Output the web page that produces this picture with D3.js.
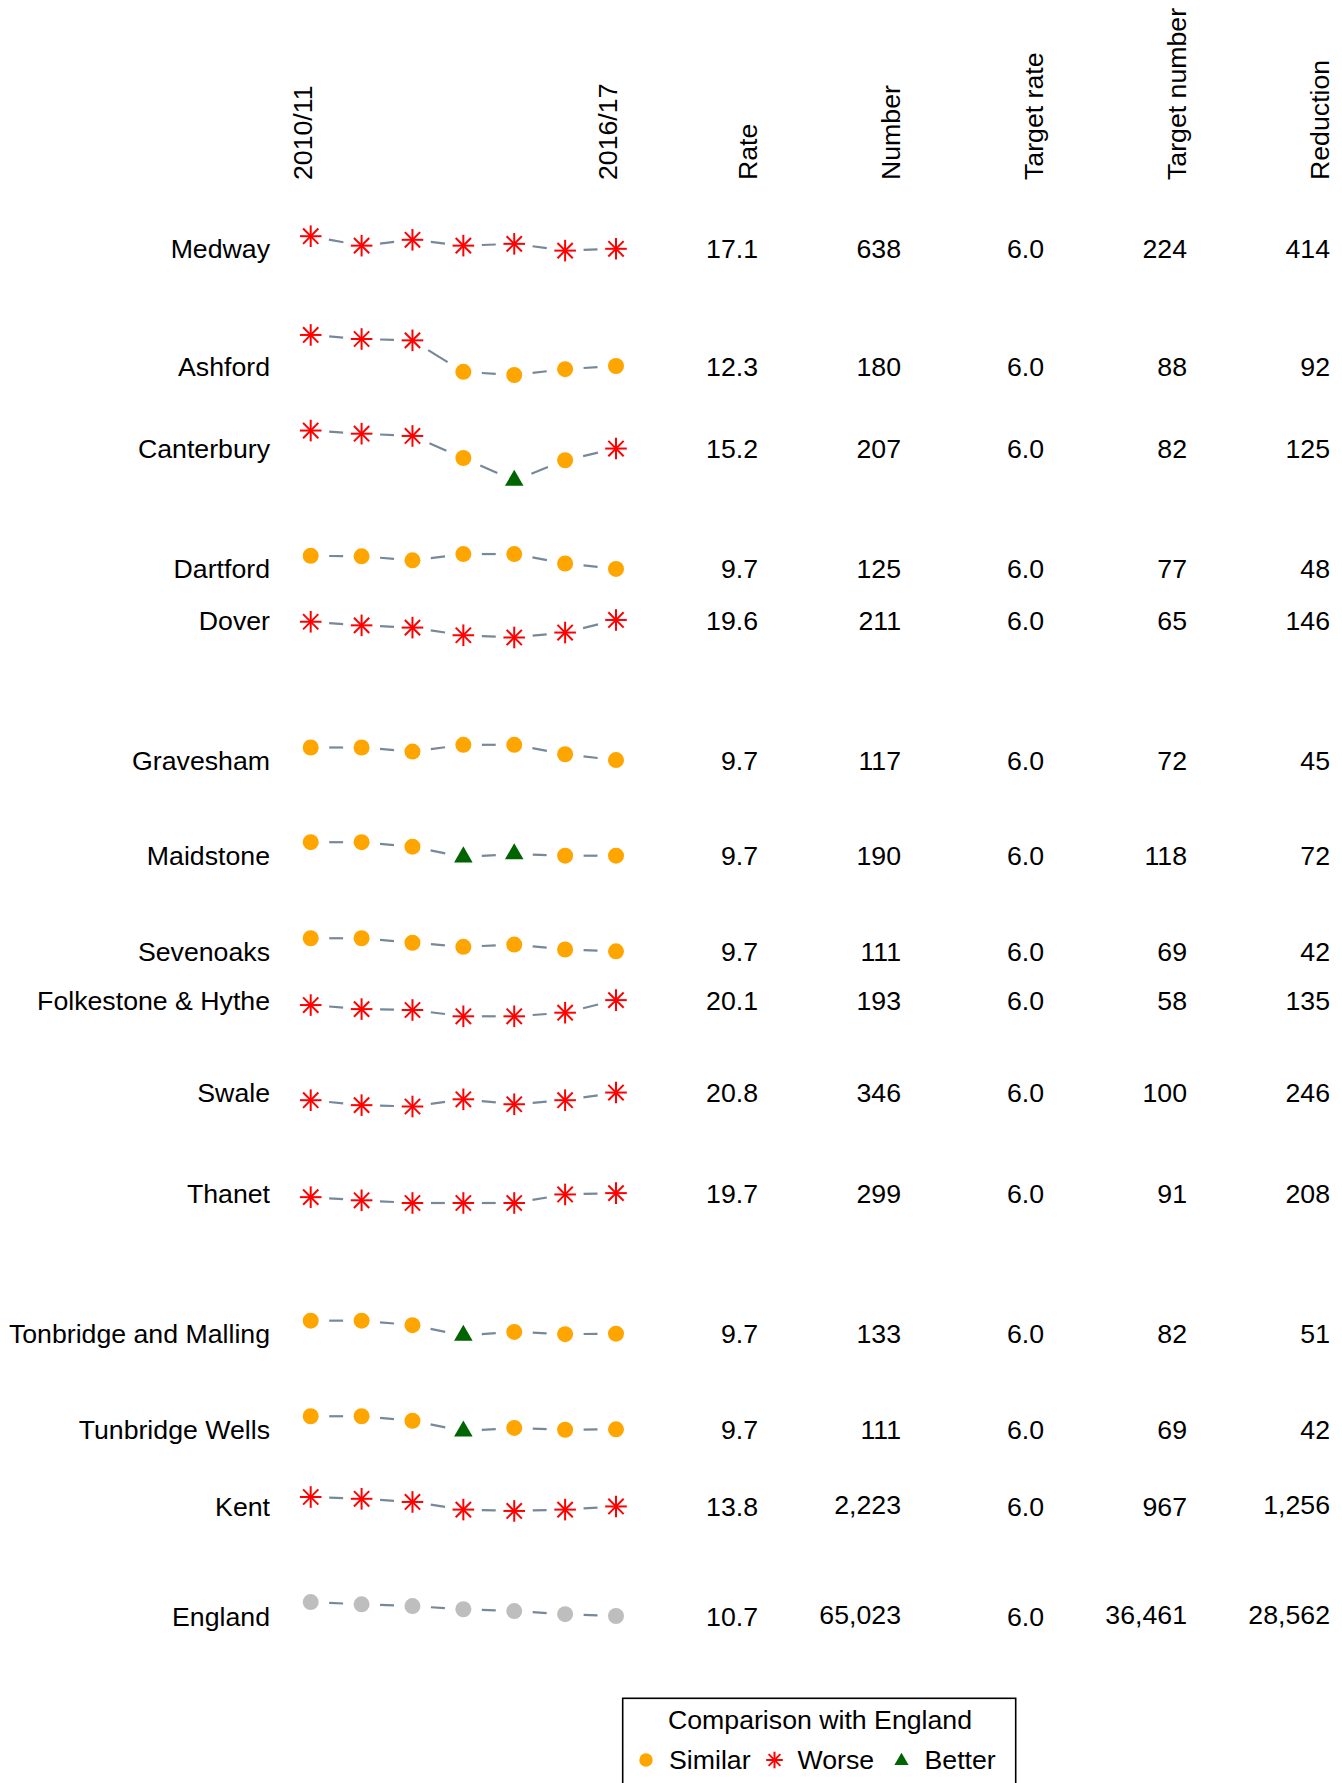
<!DOCTYPE html>
<html>
<head>
<meta charset="utf-8">
<script src="https://cdn.jsdelivr.net/npm/d3@7"></script>
<style>
  body { margin: 0; background: #fff; }
  svg text { font-family: "Liberation Sans", Arial, sans-serif; font-size: 26.7px; fill: #000; }
</style>
</head>
<body>
<svg id="chart" width="1342" height="1783"></svg>
<script>
// data
const years = ['2010/11', '2011/12', '2012/13', '2013/14', '2014/15', '2015/16', '2016/17'];

const areas = ['Medway', 'Ashford', 'Canterbury', 'Dartford', 'Dover', 'Gravesham', 'Maidstone',
  'Sevenoaks', 'Folkestone & Hythe', 'Swale', 'Thanet', 'Tonbridge and Malling',
  'Tunbridge Wells', 'Kent', 'England'];

// one trend per area, 2010/11 .. 2016/17
const trendRates = [
  [19.9, 17.8, 19.1, 17.8, 18.2, 16.7, 17.1],
  [19.2, 18.3, 18.0, 11.0, 10.3, 11.6, 12.3],
  [19.2, 18.5, 18.0, 13.1, 8.1, 12.6, 15.2],
  [12.6, 12.5, 11.6, 13.0, 13.0, 10.9, 9.7],
  [19.2, 18.4, 17.9, 16.2, 15.7, 16.8, 19.6],
  [12.5, 12.5, 11.6, 13.1, 13.1, 11.0, 9.7],
  [12.7, 12.7, 11.7, 9.4, 10.1, 9.7, 9.7],
  [12.6, 12.6, 11.6, 10.7, 11.2, 10.1, 9.7],
  [19.0, 18.1, 17.9, 16.5, 16.5, 17.3, 20.1],
  [19.1, 18.0, 17.7, 19.3, 18.2, 19.1, 20.8],
  [18.8, 18.1, 17.5, 17.5, 17.5, 19.4, 19.7],
  [12.6, 12.6, 11.6, 9.3, 10.1, 9.6, 9.7],
  [12.6, 12.6, 11.6, 9.3, 10.0, 9.6, 9.7],
  [15.9, 15.5, 14.8, 13.1, 12.8, 13.1, 13.8],
  [13.8, 13.3, 12.9, 12.2, 11.8, 11.1, 10.7]
];

// S = similar, W = worse, B = better, E = England itself
const trendFlags = ['WWWWWWW', 'WWWSSSS', 'WWWSBSW', 'SSSSSSS', 'WWWWWWW', 'SSSSSSS', 'SSSBBSS',
  'SSSSSSS', 'WWWWWWW', 'WWWWWWW', 'WWWWWWW', 'SSSBSSS', 'SSSBSSS', 'WWWWWWW', 'EEEEEEE'];

const rate = [17.1, 12.3, 15.2, 9.7, 19.6, 9.7, 9.7, 9.7, 20.1, 20.8, 19.7, 9.7, 9.7, 13.8, 10.7];
const number = [638, 180, 207, 125, 211, 117, 190, 111, 193, 346, 299, 133, 111, 2223, 65023];
const targetRate = [6, 6, 6, 6, 6, 6, 6, 6, 6, 6, 6, 6, 6, 6, 6];
const targetNumber = [224, 88, 82, 77, 65, 72, 118, 69, 58, 100, 91, 82, 69, 967, 36461];
const reduction = [414, 92, 125, 48, 146, 45, 72, 42, 135, 246, 208, 51, 42, 1256, 28562];

const columnHeaders = ['Rate', 'Number', 'Target rate', 'Target number', 'Reduction'];

const legendLabels = ['Similar', 'Worse', 'Better'];

const colors = {
  S: '#FFA500',
  W: '#FF0000',
  B: '#006400',
  E: '#BEBEBE',
  line: '#778899'
};

const svg = d3.select('#chart');
const em = 26.7;

// scales
const x = d3.scalePoint().domain(years).range([310.7, 616]);
const row = d3.scalePoint().domain(areas).range([325.75, 1664.15]);
const offset = d3.scaleLinear().domain([0, 20]).range([0, -90]);
const col = d3.scalePoint().domain(columnHeaders).range([758, 1330]);

const fmt1 = d3.format('.1f');
const fmtN = d3.format(',');

const columns = [
  { values: rate, format: fmt1 },
  { values: number, format: fmtN },
  { values: targetRate, format: fmt1 },
  { values: targetNumber, format: fmtN },
  { values: reduction, format: fmtN }
];

// numbers are centred on their ink box, so a comma lifts them a little
function baselineFor (y, str) {
  const desc = str.indexOf(',') >= 0 ? 0.15 : 0;
  return y + em * (0.716 - desc) / 2;
}

// markers
function drawMarker (g, flag, cx, cy, size) {
  const s = size || 1;
  if (flag === 'W') {
    const a = 10.8 * s, d = a / Math.SQRT2;
    const lines = [[-a, 0, a, 0], [0, -a, 0, a], [-d, -d, d, d], [-d, d, d, -d]];
    lines.forEach(l => {
      g.append('line')
        .attr('x1', cx + l[0]).attr('y1', cy + l[1])
        .attr('x2', cx + l[2]).attr('y2', cy + l[3])
        .attr('stroke', colors.W)
        .attr('stroke-width', 2);
    });
  } else if (flag === 'B') {
    const r = 10.7 * s, hw = r * Math.sqrt(3) / 2;
    g.append('path')
      .attr('d', `M${cx},${cy - r}L${cx + hw},${cy + r / 2}L${cx - hw},${cy + r / 2}Z`)
      .attr('fill', colors.B);
  } else {
    g.append('circle')
      .attr('cx', cx).attr('cy', cy).attr('r', 8 * s)
      .attr('fill', colors[flag]);
  }
}

const gap = 18.5;

areas.forEach((area, i) => {
  const pts = trendRates[i].map((v, j) => [x(years[j]), row(area) + offset(v)]);
  const g = svg.append('g').attr('class', 'area-row');

  // connecting dashes, trimmed around each point
  d3.pairs(pts).forEach(([p, q]) => {
    const dx = q[0] - p[0], dy = q[1] - p[1];
    const len = Math.sqrt(dx * dx + dy * dy);
    const ux = dx / len, uy = dy / len;
    g.append('line')
      .attr('x1', p[0] + ux * gap).attr('y1', p[1] + uy * gap)
      .attr('x2', q[0] - ux * gap).attr('y2', q[1] - uy * gap)
      .attr('stroke', colors.line)
      .attr('stroke-width', 2.2);
  });

  pts.forEach((p, j) => drawMarker(g, trendFlags[i][j], p[0], p[1]));

  const yLast = pts[pts.length - 1][1];

  g.append('text')
    .attr('x', 270)
    .attr('y', baselineFor(yLast, ''))
    .attr('text-anchor', 'end')
    .text(area);

  columns.forEach((c, k) => {
    const s = c.format(c.values[i]);
    g.append('text')
      .attr('x', col(columnHeaders[k]))
      .attr('y', baselineFor(yLast, s))
      .attr('text-anchor', 'end')
      .text(s);
  });
});

// rotated headers
const headers = svg.append('g').attr('class', 'headers');
[years[0], years[years.length - 1]].forEach(yr => {
  headers.append('text')
    .attr('transform', `translate(${x(yr) + 1},180) rotate(-90)`)
    .text(yr);
});
columnHeaders.forEach(h => {
  headers.append('text')
    .attr('transform', `translate(${col(h) - 1},180) rotate(-90)`)
    .text(h);
});

// legend
const legend = svg.append('g').attr('class', 'legend');
legend.append('rect')
  .attr('x', 622.7).attr('y', 1698.3)
  .attr('width', 393).attr('height', 120)
  .attr('fill', 'none')
  .attr('stroke', '#000')
  .attr('stroke-width', 1.6);
legend.append('text')
  .attr('x', 820).attr('y', 1729.3)
  .attr('text-anchor', 'middle')
  .text('Comparison with England');

const legendKeys = ['S', 'W', 'B'];
const legendX = [646, 774.5, 901.5];
legendKeys.forEach((k, i) => {
  drawMarker(legend, k, legendX[i], k === 'B' ? 1761 : 1760, k === 'S' ? 0.84 : 0.77);
  legend.append('text')
    .attr('x', legendX[i] + 23)
    .attr('y', 1769)
    .text(legendLabels[i]);
});
</script>
</body>
</html>
